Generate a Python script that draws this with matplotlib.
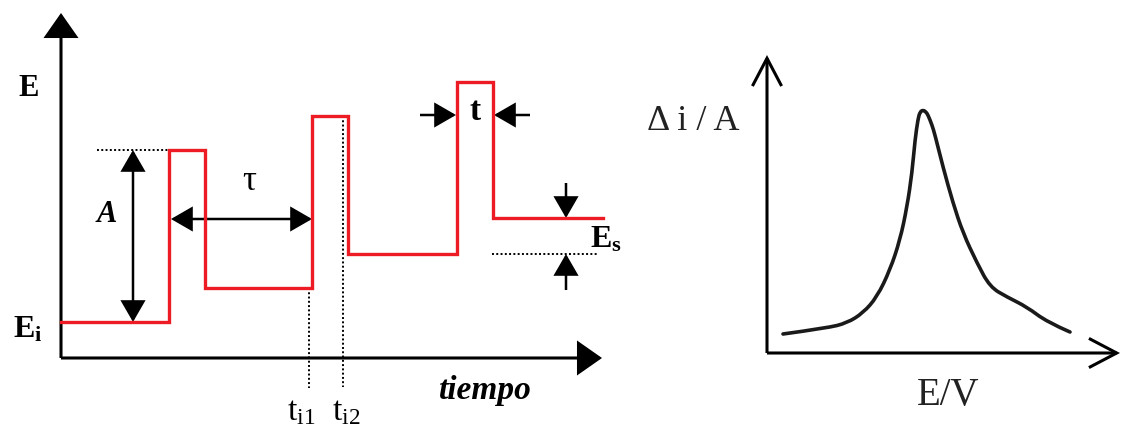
import matplotlib
matplotlib.use("Agg")
import matplotlib.pyplot as plt
from matplotlib.patches import FancyArrowPatch, PathPatch
from matplotlib.path import Path

plt.rcParams.update({
    "font.family": "Liberation Serif",
    "mathtext.fontset": "custom",
    "mathtext.rm": "Liberation Serif",
    "mathtext.it": "Liberation Serif:italic",
    "mathtext.bf": "Liberation Serif:bold",
})

RED = "#ed1c24"

# Left panel: square-wave pulse sequence (units = pixels from the axis origin)
base_levels = [36, 70, 104, 140]      # E_i and the following steps (E_s each)
pulse_starts = [108, 251, 396]
pulse_width = 36
amplitude = 172                        # A
t_end = 542
ti_marks = [248, 282]                  # t_i1, t_i2
ti_labels = [r"$\mathrm{t}_{\mathrm{i1}}$", r"$\mathrm{t}_{\mathrm{i2}}$"]

# Right panel: differential pulse voltammogram (hand-drawn peak)
curve_E = [16, 60, 80, 96, 110, 123, 133, 140, 145, 148, 151, 153, 156, 159,
           161, 165, 168, 176, 186, 196, 210, 223, 240, 260, 280, 303]
curve_di = [19, 25, 30, 40, 56, 83, 113, 146, 180, 213, 234, 241, 243, 241,
            238, 228, 218, 186, 150, 120, 90, 66, 56, 46, 31, 21]

fig = plt.figure(figsize=(11.22, 4.29), dpi=100)
W, H = 1122, 429

ax1 = fig.add_axes([61 / W, 71 / H, 559 / W, 358 / H])
ax1.set_xlim(0, 559)
ax1.set_ylim(0, 358)
ax1.axis("off")

ax2 = fig.add_axes([767 / W, 76 / H, 355 / W, 353 / H])
ax2.set_xlim(0, 355)
ax2.set_ylim(0, 353)
ax2.axis("off")


def arrow(ax, p0, p1, style, lw=2.2, color="black"):
    a = FancyArrowPatch(p0, p1, arrowstyle=style, mutation_scale=1,
                        color=color, lw=lw, shrinkA=0, shrinkB=0,
                        clip_on=False, joinstyle="miter", capstyle="butt")
    ax.add_patch(a)


filled_big = "-|>,head_length=15,head_width=10.5"
filled_small = "-|>,head_length=13,head_width=7.5"
filled_both = "<|-|>,head_length=13,head_width=7.5"
dots = (0, (1, 1.2))

# axes of the left panel
arrow(ax1, (0, 0), (0, 345), filled_big)
arrow(ax1, (0, 0), (541, 0), filled_big)

# waveform
wx, wy = [0], [base_levels[0]]
for k, ts in enumerate(pulse_starts):
    lo = base_levels[k]
    wx += [ts, ts, ts + pulse_width, ts + pulse_width]
    wy += [lo, lo + amplitude, lo + amplitude, base_levels[k + 1]]
wx.append(t_end)
wy.append(base_levels[-1])
ax1.plot(wx, wy, color=RED, lw=2.4, solid_joinstyle="miter", clip_on=False,
         zorder=3)

# amplitude A
top = base_levels[0] + amplitude
ax1.plot([36, pulse_starts[0]], [top, top], color="black", lw=1.4,
         ls=dots, clip_on=False)
arrow(ax1, (72, base_levels[0]), (72, top), filled_both, lw=1.8)
ax1.text(46, 143, "A", fontsize=22, fontweight="bold", style="italic",
         ha="center", va="center")

# period tau
arrow(ax1, (pulse_starts[0] + 2, 139), (pulse_starts[1], 139), filled_both,
      lw=1.8)
ax1.text(188, 176, "τ", fontsize=25, ha="center", va="center")

# sampling times
ax1.plot([ti_marks[0]] * 2, [base_levels[1], -30], color="black", lw=1.4,
         ls=dots, clip_on=False)
ax1.plot([ti_marks[1]] * 2, [base_levels[1] + amplitude, -29], color="black",
         lw=1.4, ls=dots, clip_on=False)
for xm, dx in zip(ti_marks, [-22, -11]):
    pass
ax1.text(ti_marks[0] - 22, -62, ti_labels[0], fontsize=24, ha="left",
         va="baseline")
ax1.text(ti_marks[1] - 11, -62, ti_labels[1], fontsize=24, ha="left",
         va="baseline")

# pulse width t
pw_y = 243
ts3 = pulse_starts[2]
arrow(ax1, (ts3 - 37, pw_y), (ts3 - 1, pw_y), filled_small, lw=1.8)
arrow(ax1, (ts3 + pulse_width + 37, pw_y), (ts3 + pulse_width + 1, pw_y),
      filled_small, lw=1.8)
ax1.text(ts3 + pulse_width / 2, 247, "t", fontsize=24, fontweight="bold",
         ha="center", va="center")

# step E_s
ax1.plot([431, 536], [base_levels[2], base_levels[2]], color="black", lw=1.4,
         ls=dots, clip_on=False)
arrow(ax1, (505, 175), (505, base_levels[3]), filled_small, lw=1.8)
arrow(ax1, (505, 68), (505, base_levels[2]), filled_small, lw=1.8)
ax1.text(529, 110, r"$\mathbf{E}_{\mathbf{s}}$", fontsize=23, ha="left",
         va="baseline")

# axis labels
ax1.text(-43, 270, "E", fontsize=22, fontweight="bold", ha="left",
         va="center")
ax1.text(-48, 21, r"$\mathbf{E}_{\mathbf{i}}$", fontsize=23, ha="left",
         va="baseline")
ax1.text(424, -32, "tiempo", fontsize=24, fontweight="bold", style="italic",
         ha="center", va="center")

# right panel axes (open arrowheads)
open_style = "->,head_length=20,head_width=10.5"
arrow(ax2, (0, 0), (0, 298), open_style, lw=2.2)
arrow(ax2, (0, 0), (353, 0), open_style, lw=2.2)

# smooth curve: points are the control polygon of a quadratic spline path
pts = list(zip(curve_E, curve_di))
verts = [pts[0]]
codes = [Path.MOVETO]
for i in range(1, len(pts) - 2):
    mid = ((pts[i][0] + pts[i + 1][0]) / 2, (pts[i][1] + pts[i + 1][1]) / 2)
    verts += [pts[i], mid]
    codes += [Path.CURVE3, Path.CURVE3]
verts += [pts[-2], pts[-1]]
codes += [Path.CURVE3, Path.CURVE3]
ax2.add_patch(PathPatch(Path(verts, codes), facecolor="none",
                        edgecolor="#1a1a1a", lw=2.6, capstyle="round",
                        joinstyle="round", clip_on=False))

ax2.text(-120, 223, "Δ i / A", fontsize=26, ha="left", va="baseline",
         color="#222222")
ax2.text(181, -52, "E/V", fontsize=28, ha="center", va="baseline",
         color="#222222")

fig.savefig("out.png", dpi=100)
